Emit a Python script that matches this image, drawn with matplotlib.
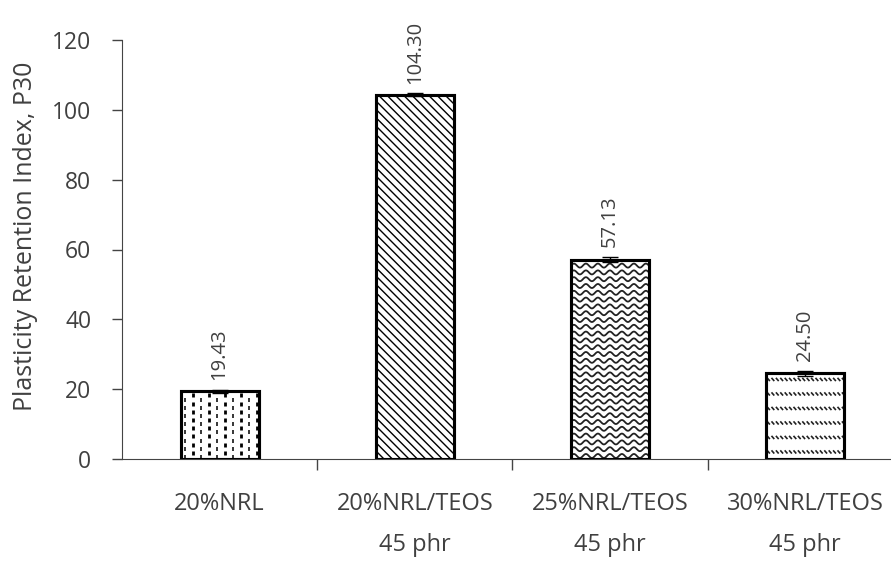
import numpy as np
import matplotlib.pyplot as plt
from matplotlib.collections import LineCollection

# values
categories = ["20%NRL", "20%NRL/TEOS\n45 phr", "25%NRL/TEOS\n45 phr", "30%NRL/TEOS\n45 phr"]
p30 = [19.43, 104.30, 57.13, 24.50]
p30_err = [0.4, 0.4, 0.8, 0.8]
value_labels = ["19.43", "104.30", "57.13", "24.50"]

plt.rcParams["font.family"] = ["Open Sans", "DejaVu Sans"]
plt.rcParams["hatch.linewidth"] = 1.0
TXT = "#404040"

W, H = 891, 561
fig = plt.figure(figsize=(W / 100, H / 100), dpi=100)
ax = fig.add_axes([122 / W, 102 / H, 1 - 122 / W, 419 / H])

x = np.arange(len(categories))
width = 0.4
ax.set_xlim(-0.5, 3.44)
ax.set_ylim(0, 120)

bars = ax.bar(x, p30, width, color="white", edgecolor="black", linewidth=2.2, zorder=3)
bars[1].set_hatch("\\\\\\\\")

# pixel scale of the data axes
sx = (W - 122) / (3.44 + 0.5)
sy = 419 / 120.0


def _clip(coll, bar):
    ax.add_collection(coll)
    coll.set_clip_path(bar)


# bar 1: columns of short vertical dashes, alternating offsets
b = bars[0]
x0, w, h = b.get_x(), b.get_width(), b.get_height()
segs = []
lws = []
i = 0
while i * 8 + 4 < w * sx:
    cx = x0 + (i * 8 + 4) / sx
    yy = -4.0 if i % 2 else 0.0
    while yy < h * sy:
        segs.append([(cx, max(yy, 0) / sy), (cx, min(yy + 4.0, h * sy) / sy)])
        lws.append(2.0 if i % 2 else 1.1)
        yy += 8.2
    i += 1
_clip(LineCollection(segs, colors="black", linewidths=lws, zorder=4), b)

# bar 3: wavy lines
b = bars[2]
x0, w, h = b.get_x(), b.get_width(), b.get_height()
t = np.linspace(0, w * sx, 200)
segs = []
yy = 3
while yy < h * sy + 6:
    wave = yy + 2.0 * np.sin(2 * np.pi * t / 12.0)
    segs.append(np.column_stack([x0 + t / sx, wave / sy]))
    yy += 6.8
_clip(LineCollection(segs, colors="#222222", linewidths=1.3, zorder=4), b)

# bar 4: rows of short slanted dashes
b = bars[3]
x0, w, h = b.get_x(), b.get_width(), b.get_height()
segs = []
yy = h * sy - 6
while yy > -2:
    xx = 1.0
    while xx < w * sx:
        segs.append([(x0 + xx / sx, (yy + 1.6) / sy), (x0 + (xx + 2.8) / sx, (yy - 1.6) / sy)])
        xx += 4.4
    yy -= 14.5
_clip(LineCollection(segs, colors="#222222", linewidths=1.2, zorder=4), b)

# redraw outline over patterns
for b in bars:
    ax.add_patch(plt.Rectangle((b.get_x(), 0), b.get_width(), b.get_height(),
                               fill=False, edgecolor="black", linewidth=2.2, zorder=5))

ax.errorbar(x, p30, yerr=p30_err, fmt="none", ecolor="black", elinewidth=1.0,
            capsize=6, capthick=1.0, zorder=6)

for xi, v, e, lab in zip(x, p30, p30_err, value_labels):
    ax.text(xi, v + e + 2.8, lab, rotation=90, ha="center", va="bottom",
            fontsize=14.5, color=TXT)

for s in ["top", "right"]:
    ax.spines[s].set_visible(False)
ax.spines["left"].set_color("#444444")
ax.spines["bottom"].set_color("#444444")

ax.set_yticks(np.arange(0, 121, 20))
ax.tick_params(axis="y", direction="out", length=7, width=1, color="#444444",
               labelsize=16.5, labelcolor=TXT, pad=15)

ax.set_xticks(x)
ax.set_xticklabels(categories, linespacing=1.9, va="top")
ax.set_xticks(np.arange(0.5, 3.0, 1.0), minor=True)
ax.tick_params(axis="x", which="major", length=0, labelsize=17, labelcolor=TXT, pad=24)
ax.tick_params(axis="x", which="minor", direction="out", length=8, width=1, color="#444444")

ax.set_ylabel("Plasticity Retention Index, P30", fontsize=18, color=TXT)
ax.yaxis.set_label_coords(-84 / (W - 122), 0.532)

fig.savefig("out.png", dpi=100)
